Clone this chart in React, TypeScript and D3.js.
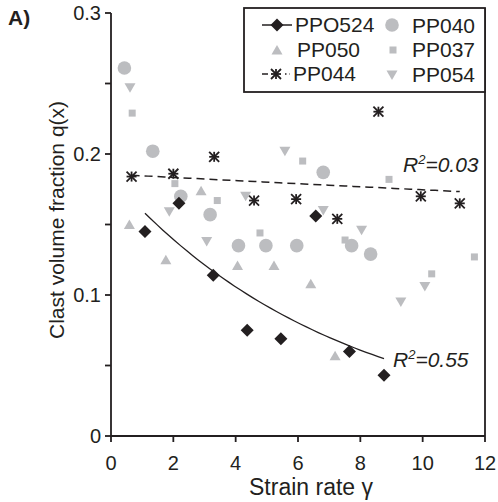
import React from "react";
import * as d3 from "d3";

const PPO524_X = [1.09, 2.18, 3.28, 4.37, 5.45, 6.57, 7.65, 8.76];
const PPO524_Y = [0.145, 0.165, 0.114, 0.075, 0.069, 0.156, 0.06, 0.043];
const PP040_X = [0.43, 1.34, 2.24, 3.18, 4.09, 4.97, 5.96, 6.81, 7.72, 8.33];
const PP040_Y = [0.261, 0.202, 0.17, 0.157, 0.135, 0.135, 0.135, 0.187, 0.135, 0.129];
const PP050_X = [0.59, 1.76, 2.89, 4.06, 5.23, 6.41, 7.19];
const PP050_Y = [0.15, 0.125, 0.174, 0.121, 0.121, 0.108, 0.057];
const PP037_X = [0.68, 2.05, 3.41, 4.78, 6.15, 7.51, 8.92, 10.29, 11.66];
const PP037_Y = [0.229, 0.179, 0.167, 0.144, 0.195, 0.139, 0.182, 0.115, 0.127];
const PP054_X = [0.61, 1.87, 3.07, 4.32, 5.58, 6.81, 8.04, 9.3, 10.07];
const PP054_Y = [0.247, 0.159, 0.138, 0.17, 0.202, 0.16, 0.146, 0.095, 0.106];
const PP044_X = [0.66, 2.0, 3.31, 4.59, 5.94, 7.26, 8.58, 9.94, 11.19];
const PP044_Y = [0.184, 0.186, 0.198, 0.167, 0.168, 0.154, 0.23, 0.17, 0.165];

const X_TICKS = [0, 2, 4, 6, 8, 10, 12];
const Y_TICKS = [0, 0.05, 0.1, 0.15, 0.2, 0.25, 0.3];
const Y_LABELS = ["0", "", "0.1", "", "0.2", "", "0.3"];
const R2_PPO524 = "0.55";
const R2_PP044 = "0.03";

const BLACK = "#231f20";
const GRAY = "#bcbdc0";
const FONT = "Liberation Sans, Arial, sans-serif";

function expFit(xs: number[], ys: number[]) {
  const ly = ys.map((v) => Math.log(v));
  const mx = d3.mean(xs)!;
  const my = d3.mean(ly)!;
  let sxy = 0, sxx = 0;
  xs.forEach((x, i) => {
    sxy += (x - mx) * (ly[i] - my);
    sxx += (x - mx) * (x - mx);
  });
  const b = sxy / sxx;
  const a = Math.exp(my - b * mx);
  return (x: number) => a * Math.exp(b * x);
}

const x = d3.scaleLinear().domain([0, 12]).range([111, 485]);
const y = d3.scaleLinear().domain([0, 0.3]).range([436, 13]);

type Kind = "diamond" | "circle" | "up" | "down" | "square" | "star";

function Marker({ kind, cx, cy }: { kind: Kind; cx: number; cy: number }) {
  switch (kind) {
    case "diamond": {
      const r = 6.5;
      return <path d={`M${cx},${cy - r}L${cx + r},${cy}L${cx},${cy + r}L${cx - r},${cy}Z`} fill={BLACK} />;
    }
    case "circle":
      return <circle cx={cx} cy={cy} r={6.8} fill={GRAY} />;
    case "up": {
      const w = 5.5, h = 9;
      return <path d={`M${cx},${cy - h / 2 - 0.5}L${cx + w},${cy + h / 2}L${cx - w},${cy + h / 2}Z`} fill={GRAY} />;
    }
    case "down": {
      const w = 5.5, h = 9;
      return <path d={`M${cx - w},${cy - h / 2}L${cx + w},${cy - h / 2}L${cx},${cy + h / 2 + 0.5}Z`} fill={GRAY} />;
    }
    case "square":
      return <rect x={cx - 3.5} y={cy - 3.5} width={7} height={7} fill={GRAY} />;
    case "star": {
      const r = 5;
      return (
        <g stroke={BLACK} strokeWidth={1.8}>
          <line x1={cx} y1={cy - r} x2={cx} y2={cy + r} />
          <line x1={cx - r} y1={cy - r} x2={cx + r} y2={cy + r} />
          <line x1={cx + r} y1={cy - r} x2={cx - r} y2={cy + r} />
          <line x1={cx - r} y1={cy} x2={cx + r} y2={cy} />
        </g>
      );
    }
  }
}

function Series({ xs, ys, kind }: { xs: number[]; ys: number[]; kind: Kind }) {
  return (
    <g>
      {xs.map((v, i) => (
        <Marker key={i} kind={kind} cx={x(v)} cy={y(ys[i])} />
      ))}
    </g>
  );
}

function fitPath(xs: number[], ys: number[]) {
  const f = expFit(xs, ys);
  const [lo, hi] = d3.extent(xs) as [number, number];
  const pts = d3.range(0, 41).map((i) => lo + ((hi - lo) * i) / 40);
  return d3
    .line<number>()
    .x((v) => x(v))
    .y((v) => y(f(v)))(pts)!;
}

export default function App() {
  return (
    <svg
      width={498}
      height={502}
      style={{ position: "absolute", left: 0, top: 0, background: "#fff" }}
      fontFamily={FONT}
    >
      <rect width={498} height={502} fill="#fff" />
      {/* fit lines */}
      <path d={fitPath(PPO524_X, PPO524_Y)} fill="none" stroke={BLACK} strokeWidth={1.3} />
      <path d={fitPath(PP044_X, PP044_Y)} fill="none" stroke={BLACK} strokeWidth={1.5} strokeDasharray="8,5" />

      {/* points */}
      <Series xs={PP040_X} ys={PP040_Y} kind="circle" />
      <Series xs={PP050_X} ys={PP050_Y} kind="up" />
      <Series xs={PP037_X} ys={PP037_Y} kind="square" />
      <Series xs={PP054_X} ys={PP054_Y} kind="down" />
      <Series xs={PPO524_X} ys={PPO524_Y} kind="diamond" />
      <Series xs={PP044_X} ys={PP044_Y} kind="star" />

      {/* axes */}
      <g stroke={BLACK} strokeWidth={1.8} fill="none">
        <line x1={x(0)} y1={y(0.3)} x2={x(0)} y2={y(0)} />
        <line x1={x(0)} y1={y(0)} x2={x(12)} y2={y(0)} />
        <line x1={x(12)} y1={8} x2={x(12)} y2={y(0)} />
        {X_TICKS.map((t) => (
          <line key={t} x1={x(t)} x2={x(t)} y1={y(0)} y2={y(0) + 6} />
        ))}
        {Y_TICKS.map((t) => (
          <line key={t} x1={x(0) - 6} x2={x(0)} y1={y(t)} y2={y(t)} />
        ))}
      </g>
      <g fontSize={20} fill={BLACK}>
        {X_TICKS.map((t) => (
          <text key={t} x={x(t)} y={470} textAnchor="middle">
            {t}
          </text>
        ))}
        {Y_TICKS.map((t, i) => (
          <text key={t} x={101} y={y(t) + 7} textAnchor="end">
            {Y_LABELS[i]}
          </text>
        ))}
      </g>
      <text x={311} y={495} fontSize={23} textAnchor="middle" fill={BLACK}>
        Strain rate γ
      </text>
      <text
        transform={`translate(64,220) rotate(-90)`}
        fontSize={21}
        textAnchor="middle"
        fill={BLACK}
      >
        Clast volume fraction q(x)
      </text>
      <text x={8} y={25} fontSize={21} fontWeight="bold" fill={BLACK}>
        A)
      </text>

      {/* R2 labels */}
      <text x={403} y={172} fontSize={21} fontStyle="italic" fill={BLACK}>
        R<tspan fontSize={13} dy={-8}>2</tspan>
        <tspan dy={8}>={R2_PP044}</tspan>
      </text>
      <text x={393} y={367} fontSize={21} fontStyle="italic" fill={BLACK}>
        R<tspan fontSize={13} dy={-8}>2</tspan>
        <tspan dy={8}>={R2_PPO524}</tspan>
      </text>

      {/* legend */}
      <rect x={244} y={8} width={241} height={84} fill="#fff" stroke={BLACK} strokeWidth={1.8} />
      <g fontSize={21} fill={BLACK}>
        <line x1={262} x2={292} y1={25} y2={25} stroke={BLACK} strokeWidth={1.5} />
        <Marker kind="diamond" cx={277} cy={25} />
        <text x={295} y={32}>PPO524</text>
        <Marker kind="up" cx={277} cy={50} />
        <text x={297} y={57}>PP050</text>
        <line x1={262} x2={268} y1={74} y2={74} stroke={BLACK} strokeWidth={1.5} />
        <line x1={285} x2={290} y1={74} y2={74} stroke={BLACK} strokeWidth={1.5} strokeDasharray="1.5,3" />
        <Marker kind="star" cx={276} cy={74} />
        <text x={293} y={81}>PP044</text>
        <Marker kind="circle" cx={392} cy={25} />
        <text x={412} y={33}>PP040</text>
        <Marker kind="square" cx={393} cy={50} />
        <text x={412} y={57}>PP037</text>
        <Marker kind="down" cx={392} cy={75} />
        <text x={412} y={82}>PP054</text>
      </g>
    </svg>
  );
}
